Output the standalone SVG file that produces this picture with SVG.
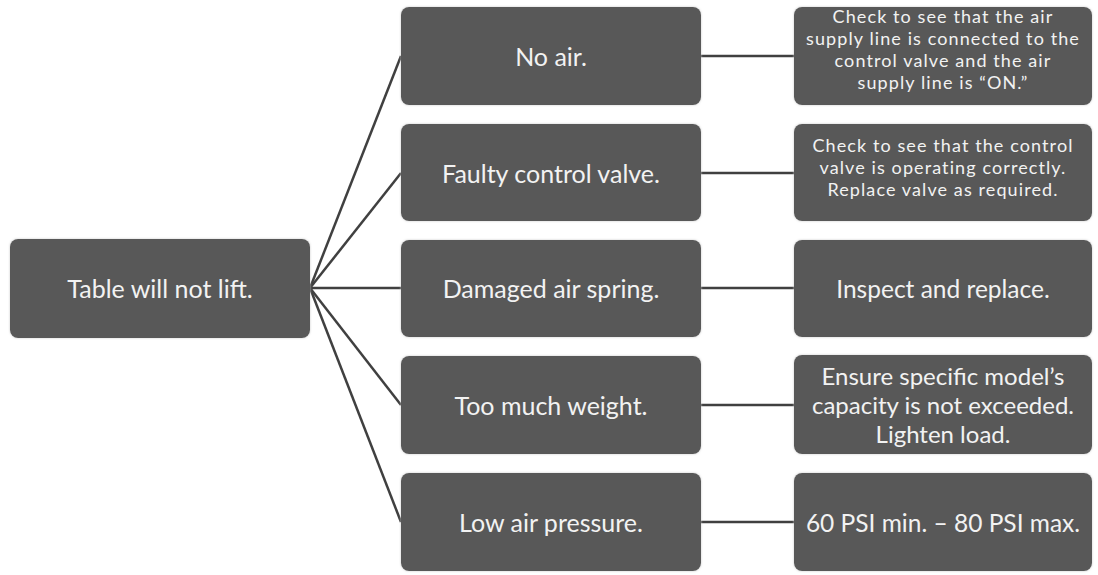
<svg xmlns="http://www.w3.org/2000/svg" width="1098" height="575" viewBox="0 0 1098 575">
<defs>
<filter id="glow" x="-5%" y="-5%" width="110%" height="110%">
<feDropShadow dx="0" dy="0" stdDeviation="1.2" flood-color="#c8c8c8" flood-opacity="1"/>
</filter>
<style>
.box{fill:#595959;filter:url(#glow);}
.t{fill:#f2f2f2;font-family:Lato,"Open Sans","Liberation Sans",sans-serif;text-anchor:middle;dominant-baseline:central;}
.big{font-size:25px;}
.sm{font-size:18px;letter-spacing:1.1px;}
.md{font-size:24.5px;}
.md2{font-size:24px;}
.con{stroke:#404040;stroke-width:2.5;fill:none;}
</style>
</defs>
<rect width="1098" height="575" fill="#ffffff"/>
<g id="connectors">
<line class="con" x1="310" y1="288" x2="401" y2="56"/>
<line class="con" x1="310" y1="288" x2="401" y2="173"/>
<line class="con" x1="310" y1="288" x2="401" y2="288"/>
<line class="con" x1="310" y1="288" x2="401" y2="405"/>
<line class="con" x1="310" y1="288" x2="401" y2="522"/>
<line class="con" x1="700" y1="56" x2="794" y2="56"/>
<line class="con" x1="700" y1="173" x2="794" y2="173"/>
<line class="con" x1="700" y1="288" x2="794" y2="288"/>
<line class="con" x1="700" y1="405" x2="794" y2="405"/>
<line class="con" x1="700" y1="522" x2="794" y2="522"/>
</g>
<g id="root">
<rect class="box" x="10" y="239" width="300" height="99" rx="8"/>
<text class="t big" x="160" y="288">Table will not lift.</text>
</g>
<g id="cause1">
<rect class="box" x="401" y="7" width="300" height="98" rx="8"/>
<text class="t big" x="551" y="56">No air.</text>
</g>
<g id="cause2">
<rect class="box" x="401" y="124" width="300" height="97" rx="8"/>
<text class="t big" x="551" y="173">Faulty control valve.</text>
</g>
<g id="cause3">
<rect class="box" x="401" y="240" width="300" height="97" rx="8"/>
<text class="t big" x="551" y="288">Damaged air spring.</text>
</g>
<g id="cause4">
<rect class="box" x="401" y="356" width="300" height="98" rx="8"/>
<text class="t big" x="551" y="405">Too much weight.</text>
</g>
<g id="cause5">
<rect class="box" x="401" y="473" width="300" height="98" rx="8"/>
<text class="t big" x="551" y="522">Low air pressure.</text>
</g>
<g id="fix1">
<rect class="box" x="794" y="7" width="298" height="98" rx="8"/>
<text class="t sm" x="943" y="16.3">Check to see that the air</text>
<text class="t sm" x="943" y="38.1">supply line is connected to the</text>
<text class="t sm" x="943" y="59.9">control valve and the air</text>
<text class="t sm" x="943" y="81.7">supply line is “ON.”</text>
</g>
<g id="fix2">
<rect class="box" x="794" y="124" width="298" height="97" rx="8"/>
<text class="t sm" x="943" y="145.2">Check to see that the control</text>
<text class="t sm" x="943" y="167">valve is operating correctly.</text>
<text class="t sm" x="943" y="188.8">Replace valve as required.</text>
</g>
<g id="fix3">
<rect class="box" x="794" y="240" width="298" height="97" rx="8"/>
<text class="t md" x="943" y="288">Inspect and replace.</text>
</g>
<g id="fix4">
<rect class="box" x="794" y="355" width="298" height="99" rx="8"/>
<text class="t md2" x="943" y="375.5">Ensure specific model’s</text>
<text class="t md2" x="943" y="404.5">capacity is not exceeded.</text>
<text class="t md2" x="943" y="433.5">Lighten load.</text>
</g>
<g id="fix5">
<rect class="box" x="794" y="473" width="298" height="98" rx="8"/>
<text class="t md" x="943" y="522">60 PSI min. – 80 PSI max.</text>
</g>
</svg>
